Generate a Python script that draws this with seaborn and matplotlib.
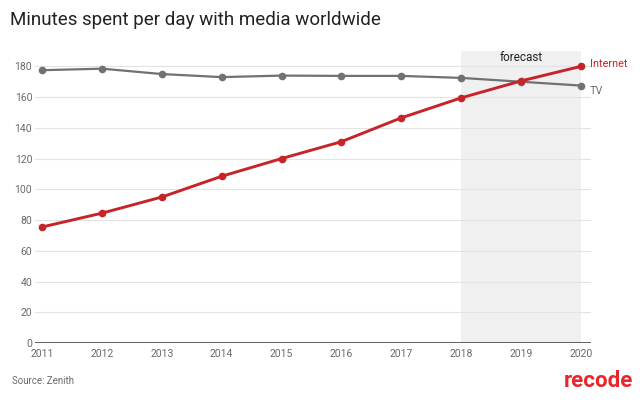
import matplotlib
matplotlib.use("Agg")
import matplotlib.pyplot as plt
import seaborn as sns
import pandas as pd

years = [2011, 2012, 2013, 2014, 2015, 2016, 2017, 2018, 2019, 2020]
tv = [177.5, 178.5, 175, 173, 174, 173.8, 173.8, 172.5, 170, 167.5]
internet = [75.5, 84.5, 95, 108.5, 120, 131, 146.5, 159.5, 170.5, 180]
series_names = ["TV", "Internet"]
yticks = [0, 20, 40, 60, 80, 100, 120, 140, 160, 180]
title = "Minutes spent per day with media worldwide"
source = "Source: Zenith"

df = pd.DataFrame({
    "year": years * 2,
    "minutes": tv + internet,
    "series": ["TV"] * len(years) + ["Internet"] * len(years),
})

sns.set_theme(style="white")
plt.rcParams["font.family"] = ["Roboto", "DejaVu Sans"]

colors = {"TV": "#717171", "Internet": "#c62428"}

fig = plt.figure(figsize=(6.4, 4.08), dpi=100)
ax = fig.add_axes([35/640, 1-343/408, (591-35)/640, (343-51)/408])

ax.axvspan(2018, 2020, color="#f0f0f0", zorder=0, lw=0)
for t in yticks[1:]:
    ax.axhline(t, color="#e3e3e3", lw=0.8, zorder=1)
ax.axhline(0, color="#444444", lw=1.2, zorder=2)

sns.lineplot(data=df, x="year", y="minutes", hue="series", palette=colors,
             marker="o", markersize=5.5, markeredgewidth=0, linewidth=1.6,
             legend=False, ax=ax, zorder=3)
ax.lines[-1].set_linewidth(2.1)

ax.set_xlim(2010.88, 2020.17)
ax.set_ylim(0, 190)
ax.set_xticks(years)
ax.set_xticklabels([str(y) for y in years])
ax.set_yticks(yticks)
ax.tick_params(axis="both", length=0, labelsize=7.5, labelcolor="#6a6a6a")
ax.tick_params(axis="x", pad=4)
ax.tick_params(axis="y", pad=2)
ax.set_xlabel("")
ax.set_ylabel("")
for s in ax.spines.values():
    s.set_visible(False)
ax.grid(False)

ax.text(2019, 186, "forecast", ha="center", va="center", fontsize=8.5, color="#222222")
ax.text(2020.15, 181.5, "Internet", ha="left", va="center", fontsize=7.8, color="#c62428", clip_on=False)
ax.text(2020.15, 164, "TV", ha="left", va="center", fontsize=7.8, color="#6f6f6f", clip_on=False)

fig.text(10/640, 1-20/408, title, ha="left", va="center", fontsize=13.5, color="#222222")
fig.text(12/640, 1-381/408, source, ha="left", va="center", fontsize=7, color="#6a6a6a")
fig.text(633/640, 1-381/408, "recode", ha="right", va="center", fontsize=16,
         fontweight="bold", color="#e8262b")

fig.savefig("out.png", dpi=100)
